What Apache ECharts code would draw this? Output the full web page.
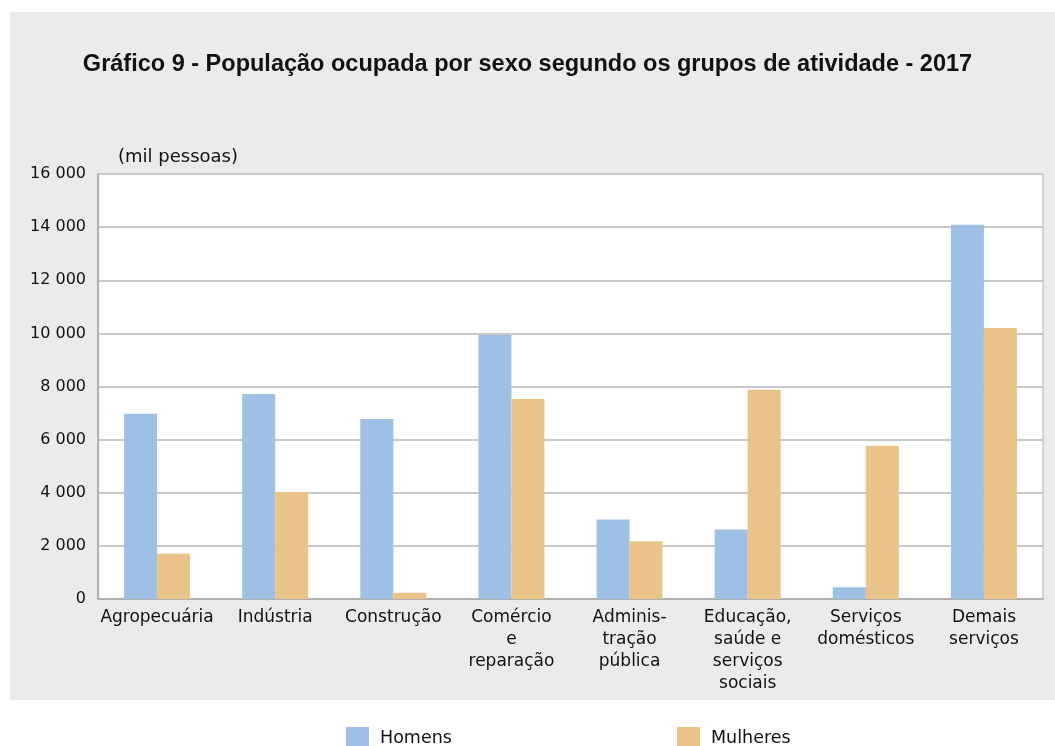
<!DOCTYPE html>
<html>
<head>
<meta charset="UTF-8">
<title>Gráfico 9</title>
<style>
    html, body { margin: 0; padding: 0; background: #fff; }
    #chartArea { width: 1055px; height: 746px; }
</style>
</head>
<body>
<div id="chartArea"></div>
<script src="https://cdn.jsdelivr.net/npm/echarts@6/dist/echarts.min.js"></script>
<script>
var categorias = ['Agropecuária', 'Indústria', 'Construção', 'Comércio\ne\nreparação',
    'Adminis-\ntração\npública', 'Educação,\nsaúde e\nserviços\nsociais', 'Serviços\ndomésticos', 'Demais\nserviços'];
var homens = [6970, 7720, 6780, 9940, 2990, 2620, 440, 14090];
var mulheres = [1700, 4030, 240, 7530, 2170, 7880, 5770, 10200];
var yTicks = [0, 2000, 4000, 6000, 8000, 10000, 12000, 14000, 16000];

var fonte = 'DejaVu Sans, Liberation Sans, sans-serif';
var fonteTitulo = 'Liberation Sans, Arial, sans-serif';
var myChart = echarts.init(document.getElementById('chartArea'));

myChart.setOption({
    animation: false,
    backgroundColor: '#fff',
    graphic: [
        {
            type: 'rect', z: -10, silent: true,
            shape: { x: 10, y: 12, width: 1045, height: 688 },
            style: { fill: '#ebebeb' }
        }
    ],
    title: {
        text: 'Gráfico 9 - População ocupada por sexo segundo os grupos de atividade - 2017',
        left: 'center',
        top: 48,
        textStyle: { fontFamily: fonteTitulo, fontSize: 23.5, fontWeight: 'bold', color: '#111' }
    },
    legend: [
        {
            data: ['Homens'], left: 346, top: 727, icon: 'rect', padding: 0,
            itemWidth: 23, itemHeight: 23, itemGap: 10,
            textStyle: { fontFamily: fonte, fontSize: 17.5, color: '#111', padding: [0, 0, 0, 6] }
        },
        {
            data: ['Mulheres'], left: 677, top: 727, icon: 'rect', padding: 0,
            itemWidth: 23, itemHeight: 23, itemGap: 10,
            textStyle: { fontFamily: fonte, fontSize: 17.5, color: '#111', padding: [0, 0, 0, 6] }
        }
    ],
    grid: {
        left: 98, right: 12, top: 174, bottom: 147,
        show: true, backgroundColor: '#fff', borderColor: '#b0b0b0', borderWidth: 1
    },
    xAxis: {
        type: 'category',
        data: categorias,
        axisLine: { lineStyle: { color: '#b0b0b0', width: 2 } },
        axisTick: { show: false },
        axisLabel: {
            interval: 0, margin: 8, color: '#111',
            fontFamily: fonte, fontSize: 17, lineHeight: 22, align: 'center'
        }
    },
    yAxis: {
        type: 'value',
        min: 0, max: 16000, interval: 2000,
        name: '(mil pessoas)',
        nameLocation: 'end',
        nameGap: 8,
        nameTextStyle: { fontFamily: fonte, fontSize: 18, color: '#111', align: 'left', padding: [0, 0, 0, 20] },
        axisLine: { show: true, lineStyle: { color: '#b0b0b0', width: 2 } },
        axisTick: { show: false },
        splitLine: { lineStyle: { color: '#c8c8c8', width: 2 } },
        axisLabel: {
            margin: 12, color: '#111', fontFamily: fonte, fontSize: 16,
            formatter: function (v) {
                if (yTicks.indexOf(v) < 0) return '';
                return String(v).replace(/\B(?=(\d{3})+(?!\d))/g, ' ');
            }
        }
    },
    series: [
        {
            name: 'Homens', type: 'bar', data: homens,
            barWidth: 33, barGap: '0%',
            itemStyle: { color: '#9fc0e5' }
        },
        {
            name: 'Mulheres', type: 'bar', data: mulheres,
            barWidth: 33, barGap: '0%',
            itemStyle: { color: '#eac388' }
        }
    ]
});
</script>
</body>
</html>
